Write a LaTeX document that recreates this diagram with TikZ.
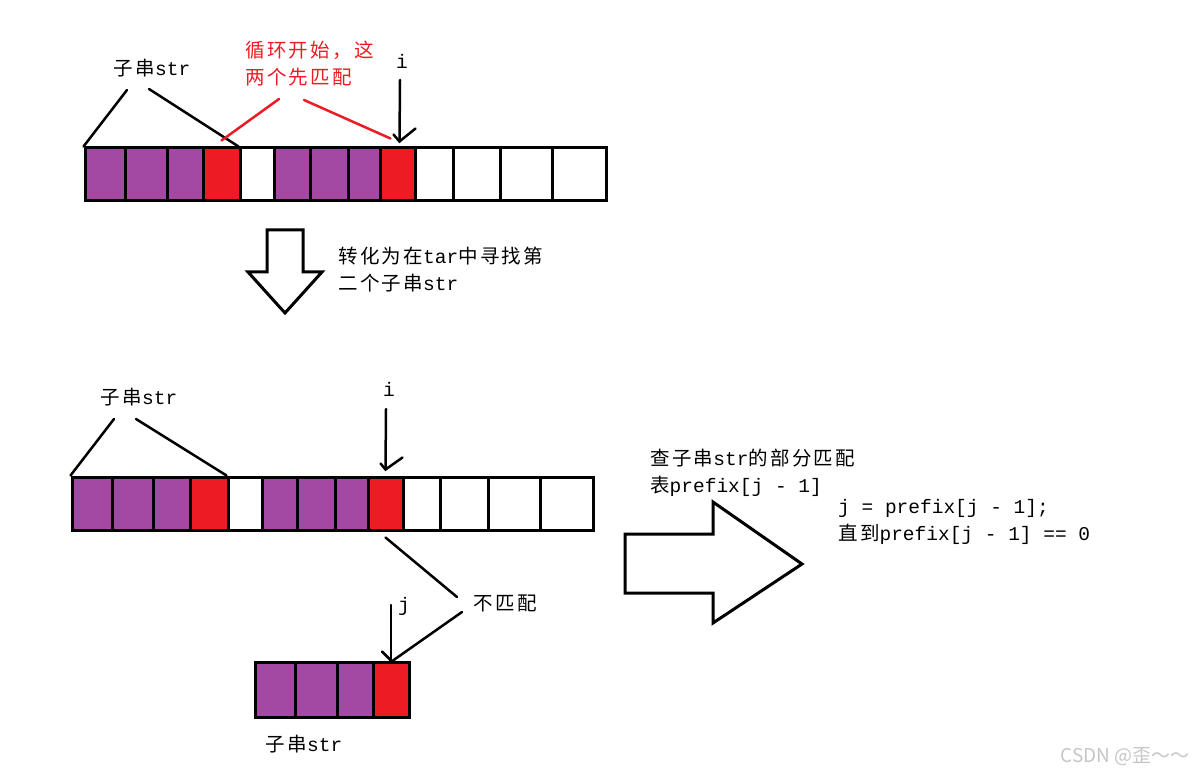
\documentclass[tikz,border=0pt]{standalone}
\usepackage{fontspec}
\setmainfont{Liberation Mono}
\newfontfamily\cjk[LetterSpace=12]{Noto Sans CJK SC}
\newfontfamily\wmfont{Noto Sans CJK SC}
\usetikzlibrary{calc}
\definecolor{ppl}{RGB}{163,73,164}
\definecolor{rd}{RGB}{237,28,36}
\begin{document}
\begin{tikzpicture}[x=1pt,y=-1pt,line join=miter,
  cell/.style={draw=black,line width=3pt,inner sep=0pt,minimum height=53pt},
  lbl/.style={inner sep=0pt,font=\fontsize{19.5}{27}\selectfont,text=black},
  conn/.style={line width=2.5pt,line cap=round},
  blk/.style={draw=black,line width=3pt,fill=white}]
\useasboundingbox (0,0) rectangle (1194,775);
\fill[white] (0,0) rectangle (1194,775);

% top array
\foreach \a/\b/\c [count=\k] in {85/125/ppl,125/167/ppl,167/203/ppl,203/240/rd,240/274/white,274/310/ppl,310/348/ppl,348/380/ppl,380/415/rd,415/453/white,453/500/white,500/552/white,552/606/white}{
  \pgfmathsetmacro\w{\b-\a}
  \pgfmathsetmacro\m{(\a+\b)/2}
  \node[cell,fill=\c,minimum width=\w pt] (t\k) at (\m,174.5) {};
}
% middle array
\foreach \a/\b/\c [count=\k] in {72/112/ppl,112/153/ppl,153/190/ppl,190/228/rd,228/262/white,262/297/ppl,297/335/ppl,335/368/ppl,368/403/rd,403/440/white,440/488/white,488/540/white,540/593/white}{
  \pgfmathsetmacro\w{\b-\a}
  \pgfmathsetmacro\m{(\a+\b)/2}
  \node[cell,fill=\c,minimum width=\w pt] (m\k) at (\m,503.5) {};
}
% bottom array
\foreach \a/\b/\c [count=\k] in {255/295/ppl,295/337/ppl,337/373/ppl,373/409/rd}{
  \pgfmathsetmacro\w{\b-\a}
  \pgfmathsetmacro\m{(\a+\b)/2}
  \node[cell,fill=\c,minimum width=\w pt,minimum height=55pt] (b\k) at (\m,689.5) {};
}

% top labels
\node[lbl] (s1) at (152,68) {{\cjk 子串}str};
\node[lbl,text=rd,anchor=west,align=left] (r1) at (245,64) {{\cjk 循环开始，这}\\{\cjk 两个先匹配}};
\node[lbl] (i1) at (402,61) {i};
\coordinate (s1a) at (127,90);
\coordinate (s1b) at (149,89);
\draw[conn] (s1a) -- (t1.north west);
\draw[conn] (s1b) -- (t5.north west);
\coordinate (r1a) at (279,99);
\coordinate (r1b) at (304,100);
\draw[conn,rd] (r1a) -- ($(t4.north)+(0,-6)$);
\draw[conn,rd] (r1b) -- ($(t9.north)+(-7,-8)$);
\coordinate (i1a) at (400,80);
\coordinate (tip1) at ($(t9.north)+(2,-5)$);
\draw[conn] (i1a) -- (tip1);
\draw[conn] ($(tip1)+(-6,-7)$) -- (tip1) -- ($(tip1)+(16,-13)$);

% down block arrow
\draw[blk] (267,230) -- (303,230) -- (303,272) -- (322,272) -- (285,313) -- (248,272) -- (267,272) -- cycle;
\node[lbl,anchor=west,align=left] (tx) at (338,270) {{\cjk 转化为在}tar{\cjk 中寻找第}\\{\cjk 二个子串}str};

% middle labels
\node[lbl] (s2) at (139,397) {{\cjk 子串}str};
\coordinate (s2a) at (114,419);
\coordinate (s2b) at (136,419);
\draw[conn] (s2a) -- (m1.north west);
\draw[conn] (s2b) -- (m5.north west);
\node[lbl] (i2) at (389,389) {i};
\coordinate (i2a) at (386,409);
\coordinate (tip2) at ($(m9.north)+(0,-6)$);
\draw[conn] (i2a) -- (tip2);
\draw[conn] ($(tip2)+(-5,-6)$) -- (tip2) -- ($(tip2)+(17,-12)$);

% mismatch
\node[lbl] (nm) at (505,603) {{\cjk 不匹配}};
\coordinate (nma) at (457,597);
\coordinate (nmb) at (462,612);
\draw[conn] ($(m9.south)+(0,6)$) -- (nma);
\node[lbl] (j) at (404,606) {j};
\coordinate (ja) at (391,605);
\coordinate (tip3) at ($(b4.north)+(0,0)$);
\draw[conn] (ja) -- (tip3);
\draw[conn] ($(tip3)+(-9,-9)$) -- (tip3);
\draw[conn] (nmb) -- ($(tip3)+(2,0)$);
\node[lbl] (s3) at (304,744) {{\cjk 子串}str};

% right block arrow
\draw[blk] (625,534) -- (713,534) -- (713,502) -- (802,564) -- (713,623) -- (713,593) -- (625,593) -- cycle;
\node[lbl,anchor=west,align=left] (p1) at (650,473) {{\cjk 查子串}str{\cjk 的部分匹配}\\{\cjk 表}prefix[j - 1]};
\node[lbl,anchor=west,align=left] (p2) at (838,522) {j = prefix[j - 1];\\{\cjk 直到}prefix[j - 1] == 0};

% watermark
\node[inner sep=0pt,font=\wmfont\fontsize{19}{19}\selectfont,text=gray!45,anchor=east] (wm) at (1190,757) {CSDN @歪～～};
\end{tikzpicture}
\end{document}
